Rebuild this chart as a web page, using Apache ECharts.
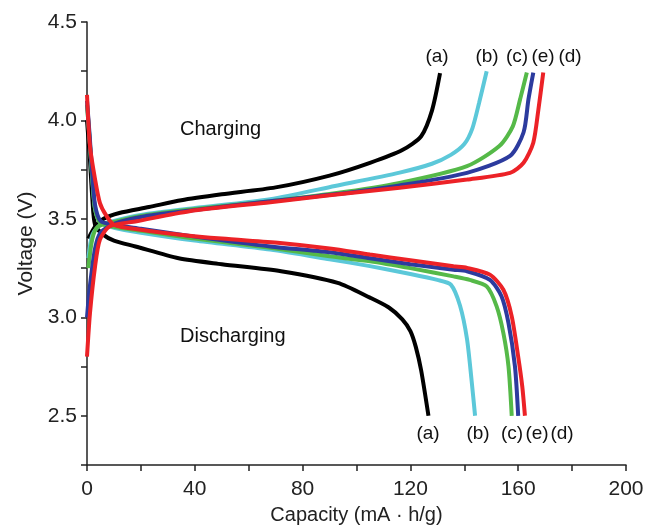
<!DOCTYPE html>
<html><head><meta charset="utf-8">
<script src="https://cdn.jsdelivr.net/npm/echarts@6/dist/echarts.min.js"></script>
<style>html,body{margin:0;padding:0;background:#fff}#c{width:647px;height:525px}</style>
</head><body><div id="c"></div>
<script>
// Capacity (mA·h/g), Voltage (V) pairs
const chargeA = [[0.5,3.40],[3,3.46],[6,3.50],[12,3.53],[23,3.56],[35,3.595],[50,3.625],[70,3.66],[90,3.72],[105,3.785],[117,3.85],[124,3.92],[128,4.05],[131,4.24]];
const chargeB = [[0.5,3.30],[2,3.42],[5,3.47],[10,3.49],[20,3.52],[40,3.555],[68,3.60],[92,3.667],[116,3.735],[128,3.78],[135,3.825],[140,3.88],[143,3.96],[145.5,4.09],[148.3,4.25]];
const chargeC = [[0.5,3.25],[2,3.40],[4,3.46],[10,3.485],[20,3.515],[40,3.55],[68,3.59],[92,3.63],[116,3.683],[141,3.768],[153,3.87],[158,3.97],[160.7,4.107],[163.2,4.243]];
const chargeE = [[0,3.0],[1,3.15],[3,3.35],[5,3.43],[10,3.475],[20,3.51],[40,3.545],[68,3.59],[92,3.625],[116,3.67],[141,3.734],[157,3.82],[162,3.94],[163.8,4.107],[165.6,4.243]];
const chargeD = [[0,2.8],[1.1,3.02],[3,3.26],[4.8,3.395],[8.5,3.463],[18.4,3.488],[38,3.539],[68,3.585],[90,3.62],[116,3.658],[141,3.70],[157,3.734],[162,3.785],[165.6,3.887],[167.5,4.056],[169.3,4.243]];

const dischargeA = [[0,4.0],[1,3.82],[2,3.6],[3,3.47],[6,3.42],[10,3.39],[18,3.36],[34,3.30],[50,3.27],[72,3.234],[93,3.175],[105,3.10],[112,3.05],[117,2.99],[120,2.93],[122,2.85],[124,2.73],[126.7,2.5]];
const dischargeB = [[0,4.08],[1,3.9],[2,3.7],[3,3.55],[5,3.48],[10,3.455],[20,3.43],[40,3.39],[68,3.344],[90,3.295],[105,3.26],[120,3.22],[130,3.19],[135,3.166],[138.4,3.06],[141,2.89],[142.7,2.68],[144,2.5]];
const dischargeC = [[0,4.08],[1,3.9],[2,3.7],[3,3.55],[5,3.48],[10,3.46],[20,3.44],[40,3.40],[68,3.353],[90,3.31],[105,3.285],[120,3.25],[136,3.208],[142,3.19],[148.3,3.157],[152,3.056],[154.5,2.92],[156.4,2.75],[157.6,2.5]];
const dischargeE = [[0,4.1],[1,3.92],[2,3.72],[3,3.57],[5,3.49],[10,3.47],[20,3.45],[40,3.41],[68,3.36],[90,3.33],[105,3.30],[120,3.27],[136,3.242],[141,3.234],[149.5,3.19],[153.8,3.107],[156.4,2.97],[158.8,2.75],[160,2.5]];
const dischargeD = [[0,4.13],[1.1,3.87],[3,3.70],[4.8,3.58],[7,3.52],[10,3.47],[20,3.445],[34.5,3.42],[50,3.40],[71.6,3.378],[90,3.35],[105,3.319],[120,3.29],[136,3.259],[141,3.251],[149.5,3.217],[154.5,3.14],[157.6,3.005],[160,2.80],[161.5,2.65],[162.5,2.5]];

const xTicks = [0,40,80,120,160,200];
const yTicks = [2.5,3.0,3.5,4.0,4.5];

const FONT = '"Liberation Sans", Arial, sans-serif';
const colors = {a:'#000000', b:'#5cc8d9', c:'#55b948', e:'#2c3b9e', d:'#ec2227'};

function line(data, color){
  return {type:'line', data:data, symbol:'none', smooth:0.25, smoothMonotone:'none',
    lineStyle:{color:color, width:4}, z:2, animation:false};
}
function lbl(text, cx, cy){
  return {type:'text', x:cx, y:cy, style:{text:text, font:'19px '+FONT, fill:'#111', align:'center', verticalAlign:'middle'}};
}

const chart = echarts.init(document.getElementById('c'), null, {renderer:'canvas'});
chart.setOption({
  animation:false,
  grid:{left:87, right:21, top:22, bottom:60, containLabel:false, outerBoundsMode:'none'},
  xAxis:{type:'value', min:0, max:200, interval:20,
    name:'Capacity (mA \u00b7 h/g)', nameLocation:'middle', nameGap:40,
    nameTextStyle:{fontFamily:FONT, fontSize:20, color:'#222'},
    axisLine:{lineStyle:{color:'#222', width:1.5}},
    axisTick:{inside:false, length:6, lineStyle:{color:'#222', width:1.5}},
    axisLabel:{fontFamily:FONT, fontSize:21, color:'#222', margin:14,
      formatter:v=> xTicks.indexOf(v)>=0 ? String(v) : ''},
    splitLine:{show:false}},
  yAxis:{type:'value', min:2.25, max:4.5, interval:0.25,
    name:'Voltage (V)', nameLocation:'middle', nameGap:48, nameRotate:90,
    nameTextStyle:{fontFamily:FONT, fontSize:21, color:'#222'},
    axisLine:{show:true, lineStyle:{color:'#222', width:1.5}},
    axisTick:{show:true, inside:false, length:6, lineStyle:{color:'#222', width:1.5}},
    axisLabel:{fontFamily:FONT, fontSize:21, color:'#222', margin:10,
      formatter:v=>{ const m = yTicks.find(t=>Math.abs(t-v)<1e-6); return m!==undefined ? m.toFixed(1) : ''; }},
    splitLine:{show:false}},
  series:[
    line(chargeA, colors.a), line(dischargeA, colors.a),
    line(chargeB, colors.b), line(dischargeB, colors.b),
    line(chargeC, colors.c), line(dischargeC, colors.c),
    line(chargeE, colors.e), line(dischargeE, colors.e),
    line(chargeD, colors.d), line(dischargeD, colors.d)
  ],
  graphic:[
    {type:'text', x:180, y:129, style:{text:'Charging', font:'20px '+FONT, fill:'#111', verticalAlign:'middle'}},
    {type:'text', x:180, y:336, style:{text:'Discharging', font:'20px '+FONT, fill:'#111', verticalAlign:'middle'}},
    lbl('(a)', 437, 57), lbl('(b)', 487, 57), lbl('(c)', 517, 57), lbl('(e)', 543, 57), lbl('(d)', 570, 57),
    lbl('(a)', 428, 434), lbl('(b)', 478, 434), lbl('(c)', 512, 434), lbl('(e)', 537, 434), lbl('(d)', 562, 434)
  ]
});
</script></body></html>
